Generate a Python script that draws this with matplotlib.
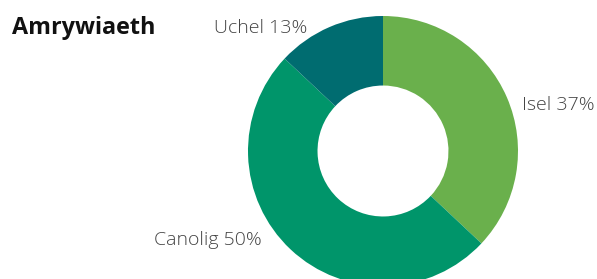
import matplotlib
matplotlib.use("Agg")
import matplotlib.pyplot as plt

labels = ["Isel", "Canolig", "Uchel"]
shares = [37, 50, 13]
colours = ["#6AB04C", "#00956A", "#006C70"]

# label anchors (data coords, radius 1 = outer ring) and alignment
label_pos = [(1.03, 0.34, "left"), (-0.90, -0.66, "right"), (-0.56, 0.91, "right")]

plt.rcParams["font.family"] = ["Open Sans", "DejaVu Sans"]

fig = plt.figure(figsize=(5.97, 2.79), dpi=100)
W, H = 597, 279
cx, cy, r = 383, 151, 135
ax = fig.add_axes([(cx - r) / W, (H - cy - r) / H, 2 * r / W, 2 * r / H])

ax.pie(shares, colors=colours, startangle=90, counterclock=False,
       radius=1, wedgeprops=dict(width=0.515, linewidth=0))
ax.set_xlim(-1, 1)
ax.set_ylim(-1, 1)
ax.axis("off")

for lab, val, (x, y, ha) in zip(labels, shares, label_pos):
    ax.text(x, y, f"{lab} {val}%", ha=ha, va="center", fontsize=14,
            fontweight="light", color="#444444")

fig.text(12 / W, 1 - 28 / H, "Amrywiaeth", fontsize=16.8, fontweight="bold",
         color="#111111", va="center", ha="left")

fig.savefig("out.png", dpi=100)
